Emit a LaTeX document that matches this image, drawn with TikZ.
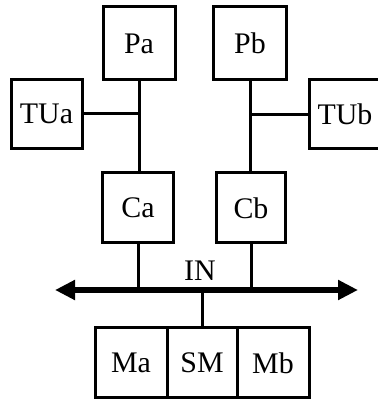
\documentclass[tikz,border=0pt]{standalone}
\usepackage{fontspec}
\setmainfont{Liberation Serif}
\usetikzlibrary{arrows.meta}
\begin{document}
\begin{tikzpicture}[line join=miter,
  unit/.style={draw,line width=3bp,inner sep=0pt,minimum width=71bp,minimum height=70bp,
    font=\fontsize{30}{32}\selectfont},
  wire/.style={line width=3bp},
  bus/.style={line width=5.5bp,{Triangle[length=20bp,width=19bp]}-{Triangle[length=20bp,width=19bp]}}]
\useasboundingbox (0bp,0bp) rectangle (378bp,399bp);
%%
\node (Pa) at (139bp,355.5bp) [unit,minimum width=72bp,minimum height=73bp] {Pa};
  \node (Pb) at (250bp,355.5bp) [unit,minimum width=73bp,minimum height=73bp] {Pb};
  \node (TUa) at (46.5bp,285bp) [unit,minimum height=69bp] {TUa};
  \node (TUb) at (345bp,284.5bp) [unit,minimum height=69bp] {TUb};
  \node (Ca) at (138bp,191bp) [unit] {Ca};
  \node (Cb) at (251bp,191bp) [unit,minimum width=69bp] {Cb};
  \node (IN) at (200bp,128bp) [font=\fontsize{30}{32}\selectfont,inner sep=0pt] {IN};
  \node (Ma) at (131bp,36bp) [unit,minimum width=72bp] {Ma};
  \node (SM) at (202bp,36bp) [unit,minimum width=70bp] {SM};
  \node (Mb) at (273bp,36bp) [unit,minimum width=72bp] {Mb};
  \coordinate (busL) at (55bp,109bp);
  \coordinate (busR) at (358bp,109bp);
  \draw [bus] (busL) -- (busR);
  \draw [wire] (Pa.south) -- (Pa.south |- Ca.north);
  \draw [wire] (Pb.south) -- (Pb.south |- Cb.north);
  \draw [wire] (TUa.east) -- (TUa.east -| Pa.south);
  \draw [wire] (TUb.west) -- (TUb.west -| Pb.south);
  \draw [wire] (Ca.south) -- (Ca.south |- busL);
  \draw [wire] (Cb.south) -- (Cb.south |- busL);
  \draw [wire] (SM.north) -- (SM.north |- busL);
%
\end{tikzpicture}
\end{document}
